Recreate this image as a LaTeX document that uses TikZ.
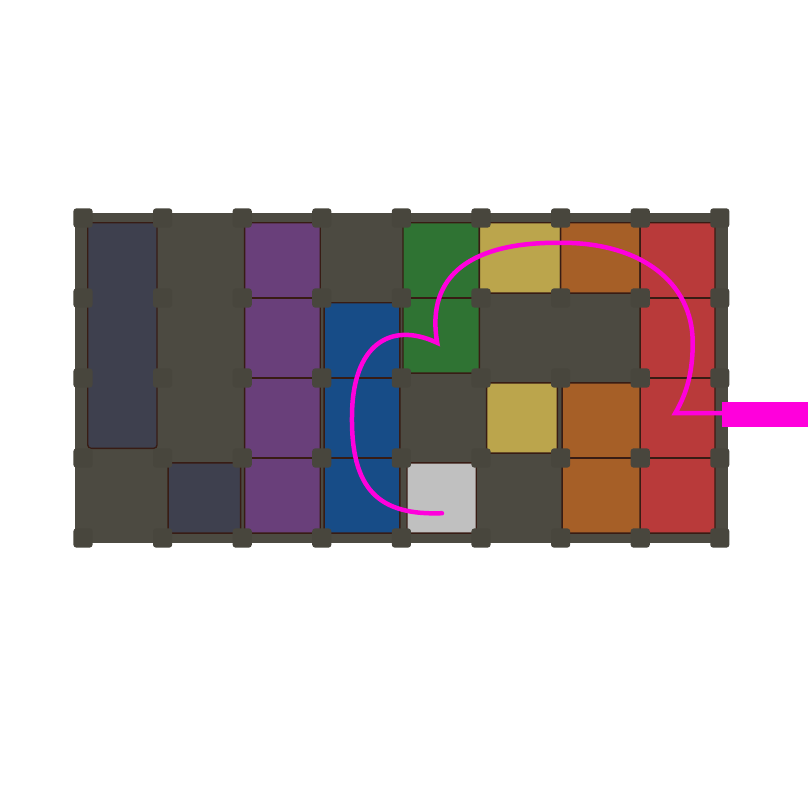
\documentclass[tikz,border=0pt]{standalone}
\usetikzlibrary{calc}
\definecolor{boardgray}{RGB}{76,74,65}
\definecolor{postgray}{RGB}{72,70,61}
\definecolor{seamdark}{RGB}{56,28,20}
\definecolor{slate}{RGB}{62,64,78}
\definecolor{plum}{RGB}{105,63,122}
\definecolor{pieceblue}{RGB}{23,76,135}
\definecolor{piecegreen}{RGB}{47,115,51}
\definecolor{mustard}{RGB}{187,165,76}
\definecolor{rust}{RGB}{166,95,39}
\definecolor{brick}{RGB}{185,58,58}
\definecolor{silver}{RGB}{192,192,192}
\definecolor{routepink}{RGB}{255,0,220}
\tikzset{
  board/.style={fill=boardgray},
  piece/.style={draw=seamdark, line width=0.5pt, rounded corners=1.2pt},
  seam/.style={draw=seamdark, line width=0.6pt},
  post/.style={fill=postgray, rounded corners=1pt},
  route/.style={draw=routepink, line width=1.6pt, line cap=round, line join=miter}
}
\newcommand{\piece}[5]{
  \filldraw[piece, fill=#1] (#2,#3) rectangle (#4,#5);
}

\begin{document}
\begin{tikzpicture}[x=0.995cm, y=-1cm]
  \useasboundingbox (-1.0427,-2.725) rectangle (9.108,7.35);

  % --- Board ---
  \fill[board] (-0.1,-0.06) rectangle (8.1,4.06);

  % --- Pieces ---
  \piece{slate}{0.06}{0.06}{0.93}{2.88}
  \piece{slate}{1.07}{3.06}{1.98}{3.94}
  \piece{plum}{2.03}{0.06}{2.98}{3.94}
  \piece{pieceblue}{3.03}{1.06}{3.98}{3.94}
  \piece{piecegreen}{4.02}{0.06}{4.98}{1.94}
  \piece{mustard}{4.98}{0.06}{6.0}{0.94}
  \piece{rust}{6.0}{0.06}{7.0}{0.94}
  \piece{brick}{7.0}{0.06}{7.94}{3.94}
  \piece{mustard}{5.07}{2.06}{5.96}{2.94}
  \piece{rust}{6.02}{2.06}{7.0}{3.94}
  \piece{silver}{4.07}{3.06}{4.94}{3.94}

  % seams between cells of one piece
  \foreach \j in {1,2,3} {
    \draw[seam] (2.03,\j) -- (2.98,\j);
    \draw[seam] (7.0,\j) -- (7.94,\j);
  }
  \foreach \j in {2,3} {
    \draw[seam] (3.03,\j) -- (3.98,\j);
  }
  \draw[seam] (4.02,1) -- (4.98,1);
  \draw[seam] (6.02,3) -- (7.0,3);

  % --- Posts ---
  \foreach \i in {0,...,8} {
    \foreach \j in {0,...,4} {
      \fill[post] (\i-0.12,\j-0.12) rectangle (\i+0.12,\j+0.12);
    }
  }

  % --- Route ---
  \coordinate (start) at (4.51,3.69);
  \coordinate (cusp) at (4.45,1.56);
  \coordinate (turn) at (7.44,2.44);
  \coordinate (exit) at (8.03,2.44);
  \draw[route] (start) .. controls (3.72,3.72) and (3.36,3.4) .. (3.38,2.45)
    .. controls (3.39,1.6) and (3.85,1.28) .. (cusp)
    .. controls (4.3,0.7) and (4.9,0.3) .. (5.99,0.31)
    .. controls (7.0,0.3) and (7.66,0.8) .. (7.66,1.56)
    .. controls (7.66,2.0) and (7.55,2.25) .. (turn)
    -- (exit);
  \fill[routepink] (8.03,2.3) rectangle (9.108,2.61);
\end{tikzpicture}
\end{document}
